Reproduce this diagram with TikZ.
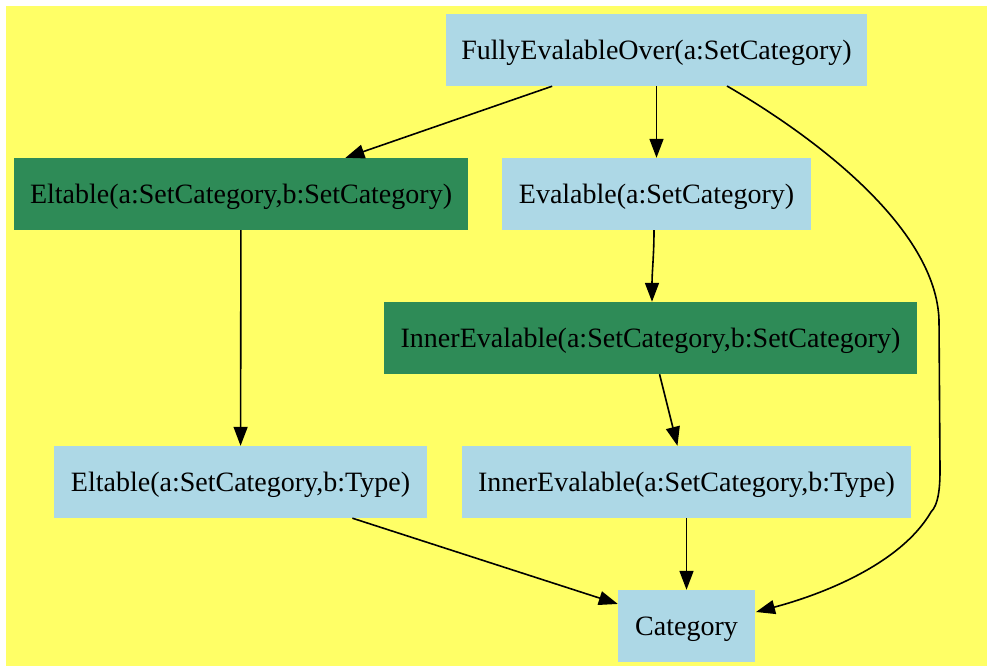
\documentclass[tikz,border=0pt]{standalone}
\usepackage{fontspec}
\setmainfont{Liberation Serif}
\usetikzlibrary{arrows.meta}
\definecolor{bgyellow}{HTML}{FFFF66}
\definecolor{boxblue}{HTML}{ADD8E6}
\definecolor{boxgreen}{HTML}{2E8B57}
\begin{document}
\begin{tikzpicture}[x=1pt,y=-1pt,
  box/.style={rectangle, fill=boxblue, inner sep=0pt, minimum height=72pt,
    text height=22pt, text depth=3pt,
    font=\fontsize{28}{30}\selectfont, text=black},
  gbox/.style={box, fill=boxgreen},
  edge/.style={draw=black, line width=1.6pt, -{Triangle[length=19pt,width=14pt]}}]
\useasboundingbox (0,0) rectangle (987,666);
\fill[bgyellow] (6,6) rectangle (987,666);
\node[box, minimum width=421pt] (feo) at (656.5,50) {FullyEvalableOver(a:SetCategory)};
\node[gbox, minimum width=454pt] (elsc) at (241,194) {Eltable(a:SetCategory,b:SetCategory)};
\node[box, minimum width=309pt] (ev) at (656.5,194) {Evalable(a:SetCategory)};
\node[gbox, minimum width=533pt] (iesc) at (650.5,338) {InnerEvalable(a:SetCategory,b:SetCategory)};
\node[box, minimum width=373pt] (elty) at (240.5,482) {Eltable(a:SetCategory,b:Type)};
\node[box, minimum width=449pt] (iety) at (686.5,482) {InnerEvalable(a:SetCategory,b:Type)};
\node[box, minimum width=137pt] (cat) at (686.5,626) {Category};
\coordinate (c1) at (727,86);
\coordinate (c2) at (939,320);
\coordinate (c3) at (931,512);
\coordinate (c4) at (756,612);
\draw[edge] (feo) -- (elsc);
\draw[edge] (feo) -- (ev);
\draw[edge] (c1) .. controls (820,140) and (936,230) .. (c2) -- (940,470) .. controls (940,490) and (938,505) .. (c3) .. controls (900,565) and (820,595) .. (c4);
\draw[edge] ([xshift=-2.5pt]ev.south) .. controls +(0,25) and +(0,-30) .. ([xshift=1.5pt]iesc.north);
\draw[edge] (iesc) -- (iety);
\draw[edge] (elsc) -- (elty);
\draw[edge] (elty) -- (cat);
\draw[edge] (iety) -- (cat);
\end{tikzpicture}
\end{document}
